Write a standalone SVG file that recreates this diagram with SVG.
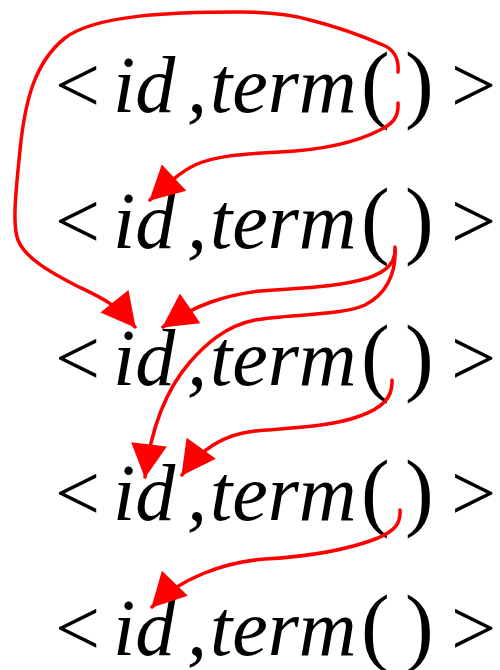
<svg xmlns="http://www.w3.org/2000/svg" width="500" height="670" viewBox="0 0 500 670">
<style>
text{font-family:"Liberation Serif","Times New Roman",serif;font-size:80px;fill:#000}
.it{font-style:italic}
.p{font-size:86px}
.arr{fill:none;stroke:#ff0000;stroke-width:3.5;stroke-linecap:round;marker-end:url(#ah)}
</style>
<defs>
<marker id="ah" markerUnits="userSpaceOnUse" markerWidth="36" markerHeight="36" viewBox="0 0 33 35" refX="32" refY="17.5" orient="auto">
<path d="M0,0 L33,17.5 L0,35 Z" fill="#ff0000"/>
</marker>
</defs>
<g id="row1"><text x="55" y="112">&lt;</text><text class="it" x="113" y="112">id</text><text class="it" x="187" y="112">,</text><text class="it" x="210" y="112">term</text><text class="p" x="361" y="112">(</text><text class="p" x="405" y="112">)</text><text x="451" y="112">&gt;</text></g>
<g id="row2"><text x="55" y="248">&lt;</text><text class="it" x="113" y="248">id</text><text class="it" x="187" y="248">,</text><text class="it" x="210" y="248">term</text><text class="p" x="361" y="248">(</text><text class="p" x="405" y="248">)</text><text x="451" y="248">&gt;</text></g>
<g id="row3"><text x="55" y="385">&lt;</text><text class="it" x="113" y="385">id</text><text class="it" x="187" y="385">,</text><text class="it" x="210" y="385">term</text><text class="p" x="361" y="385">(</text><text class="p" x="405" y="385">)</text><text x="451" y="385">&gt;</text></g>
<g id="row4"><text x="55" y="520">&lt;</text><text class="it" x="113" y="520">id</text><text class="it" x="187" y="520">,</text><text class="it" x="210" y="520">term</text><text class="p" x="361" y="520">(</text><text class="p" x="405" y="520">)</text><text x="451" y="520">&gt;</text></g>
<g id="row5"><text x="55" y="655">&lt;</text><text class="it" x="113" y="655">id</text><text class="it" x="187" y="655">,</text><text class="it" x="210" y="655">term</text><text class="p" x="361" y="655">(</text><text class="p" x="405" y="655">)</text><text x="451" y="655">&gt;</text></g>
<g id="connectors">
<path class="arr" d="M398,72 C399,60 395,50 383,45 C360,35 330,25 310,20 C290,14 270,12 240,12 C170,12 95,15 65,38 C35,62 25,100 20,150 C16,190 12,225 18,240 C25,258 50,272 75,285 C95,295 115,302 135,327"/>
<path class="arr" d="M398,103 C399,118 392,124 380,130 C355,143 320,150 280,152 C240,154 215,156 195,165 C180,172 165,186 150,200"/>
<path class="arr" d="M395,247 C396,262 388,271 368,278 C335,288 295,288 260,291 C225,295 195,305 163,327"/>
<path class="arr" d="M395,250 C396,275 385,295 365,305 C340,316 290,314 255,320 C225,326 205,345 190,362 C170,385 152,420 145,477"/>
<path class="arr" d="M392,380 C393,398 382,408 360,416 C330,427 290,428 255,431 C225,434 200,450 182,475"/>
<path class="arr" d="M400,510 C401,524 394,531 378,538 C345,551 300,557 265,559 C225,562 180,578 152,607"/>
</g>
</svg>
